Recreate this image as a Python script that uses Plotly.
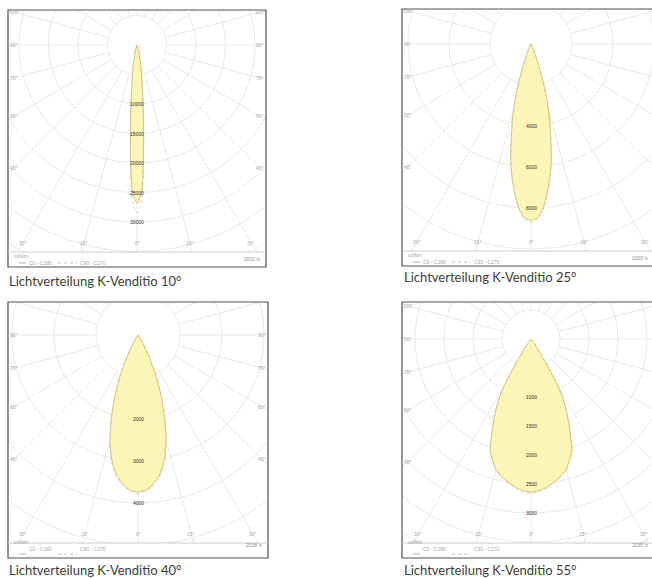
import numpy as np
import plotly.graph_objects as go

W, H = 652, 578

# ---------------- data ----------------
captions = ["Lichtverteilung K-Venditio 10°", "Lichtverteilung K-Venditio 25°",
            "Lichtverteilung K-Venditio 40°", "Lichtverteilung K-Venditio 55°"]
corner_labels = ["2002 lx", "2000 lx", "2038 lx", "2035 lx"]
ring_steps = [5000, 2000, 1000, 500]          # cd/klm per grid ring
labelled_rings = [[2, 3, 4, 5, 6], [2, 3, 4], [2, 3, 4], [2, 3, 4, 5, 6]]

# 10° beam
gamma_10 = [0, 1, 2, 3, 4, 5, 6, 8, 10, 12, 15, 20, 30, 90]
c0_10 = [26800, 26000, 24300, 20500, 16000, 12300, 9800, 6100, 4000, 2300, 1000, 300, 100, 0]
c90_10 = [28500, 27500, 25300, 21000, 16300, 12400, 9700, 6000, 3900, 2200, 950, 280, 90, 0]

# 25° beam
gamma_25 = [0, 2, 4, 6, 8, 10, 12, 14, 16, 18, 20, 25, 30, 40, 90]
c0_25 = [8600, 8500, 8100, 7400, 6600, 5700, 4600, 3700, 2800, 1800, 1000, 240, 80, 20, 0]
c90_25 = [8700, 8550, 8150, 7450, 6650, 5750, 4650, 3750, 2850, 1850, 1050, 260, 90, 20, 0]

# 40° beam
gamma_40 = [0, 3, 6, 9, 12, 15, 18, 21, 24, 27, 30, 35, 40, 50, 90]
c0_40 = [3740, 3690, 3560, 3350, 3020, 2580, 2020, 1520, 1000, 550, 280, 80, 30, 10, 0]
c90_40 = [3780, 3720, 3590, 3380, 3050, 2600, 2050, 1540, 1020, 570, 290, 90, 30, 10, 0]

# 55° beam
gamma_55 = [0, 5, 10, 15, 20, 24, 26, 28, 30, 32, 34, 37, 40, 50, 90]
c0_55 = [2640, 2590, 2480, 2330, 2050, 1600, 1400, 1190, 900, 450, 200, 75, 30, 5, 0]
c90_55 = [2660, 2600, 2490, 2340, 2060, 1610, 1410, 1200, 910, 460, 210, 80, 30, 5, 0]

side_angles = [105, 90, 75, 60, 45]
bottom_angles = [30, 15, 0]
legend_names = ["C0 - C180", "C90 - C270"]

gammas = [gamma_10, gamma_25, gamma_40, gamma_55]
c0s = [c0_10, c0_25, c0_40, c0_55]
c90s = [c90_10, c90_25, c90_40, c90_55]

# ---------------- layout geometry (pixels) ----------------
panels = [
    dict(left=8, right=266, top=10, sep=252, bottom=267, cx=137, cy=45, ring_px=29.5, cap_x=7, cap_y=281),
    dict(left=402, right=660, top=9, sep=251, bottom=266, cx=531, cy=44, ring_px=41, cap_x=402, cap_y=277),
    dict(left=8, right=268, top=302, sep=543, bottom=558, cx=138, cy=335, ring_px=42, cap_x=7, cap_y=570),
    dict(left=402, right=660, top=302, sep=543, bottom=558, cx=531, cy=339, ring_px=29, cap_x=402, cap_y=570),
]

GRID = "#e9e9e9"
FILL = "#fbf6b6"
EDGE = "#d6c486"
SMALL = "Liberation Sans, Arial, sans-serif"
LBL = "#a8a8a8"

fig = go.Figure()
annotations = []
shapes = []
layout_axes = {}


def px(xp):
    return xp / W


def py(yp):
    return 1 - yp / H


for i, p in enumerate(panels):
    sfx = "" if i == 0 else str(i + 1)
    xa, ya = "x" + sfx, "y" + sfx
    step = ring_steps[i]
    k = p["ring_px"] / step  # pixels per cd
    xr_px = min(p["right"], W)
    xrange = [(p["left"] - p["cx"]) / k, (xr_px - p["cx"]) / k]
    yrange = [-(p["sep"] - p["cy"]) / k, (p["cy"] - p["top"]) / k]
    layout_axes["xaxis" + sfx] = dict(domain=[px(p["left"]), px(xr_px)], range=xrange, visible=False,
                                      fixedrange=True, anchor=ya)
    layout_axes["yaxis" + sfx] = dict(domain=[py(p["sep"]), py(p["top"])], range=yrange, visible=False,
                                      fixedrange=True, anchor=xa)

    # polar grid: rings
    rmax_px = np.hypot(max(p["cx"] - p["left"], p["right"] - p["cx"]), p["sep"] - p["top"])
    n_rings = int(np.ceil(rmax_px / p["ring_px"])) + 1
    th = np.linspace(0, 2 * np.pi, 241)
    gx, gy = [], []
    for n in range(1, n_rings + 1):
        gx += list(n * step * np.cos(th)) + [None]
        gy += list(n * step * np.sin(th)) + [None]
    # radials every 15°
    for a in range(0, 360, 15):
        t = np.radians(a)
        gx += [step * np.sin(t), (n_rings + 1) * step * np.sin(t), None]
        gy += [-step * np.cos(t), -(n_rings + 1) * step * np.cos(t), None]
    fig.add_trace(go.Scatter(x=gx, y=gy, mode="lines", line=dict(color=GRID, width=1),
                             xaxis=xa, yaxis=ya, hoverinfo="skip"))

    # light distribution curves
    g = np.array(gammas[i], dtype=float)
    for vals, is_c0 in ((c0s[i], True), (c90s[i], False)):
        v = np.array(vals, dtype=float)
        ang = np.radians(np.concatenate([-g[::-1], g[1:]]))
        I = np.concatenate([v[::-1], v[1:]])
        x = I * np.sin(ang)
        y = -I * np.cos(ang)
        if is_c0:
            fig.add_trace(go.Scatter(x=x, y=y, mode="lines", fill="toself", fillcolor=FILL,
                                     line=dict(color=EDGE, width=1, shape="spline", smoothing=0.6),
                                     xaxis=xa, yaxis=ya, hoverinfo="skip"))
        else:
            fig.add_trace(go.Scatter(x=x, y=y, mode="lines",
                                     line=dict(color=EDGE, width=0.8, dash="dot", shape="spline", smoothing=0.6),
                                     xaxis=xa, yaxis=ya, hoverinfo="skip"))

    # ring value labels on the 0° axis
    for n in labelled_rings[i]:
        annotations.append(dict(x=0, y=-n * step, xref=xa, yref=ya, text=str(n * step), showarrow=False,
                                font=dict(size=5, color="#2e2e22", family=SMALL)))

    # angle labels
    dx = p["cx"] - (p["left"] + 6)
    ybot = p["sep"] - 9 - p["cy"]
    for a in side_angles:
        yy = -dx / np.tan(np.radians(a)) if a != 90 else 0.0
        for s in (-1, 1):
            xx_px = p["cx"] + s * dx
            if xx_px > W - 3:
                continue
            annotations.append(dict(x=s * dx / k, y=yy / k, xref=xa, yref=ya, text=f"{a}°", showarrow=False,
                                    font=dict(size=5, color=LBL, family=SMALL)))
    for a in bottom_angles:
        off = min(ybot * np.tan(np.radians(a)), dx)
        for s in ((-1, 1) if a else (1,)):
            if p["cx"] + s * off > W - 3:
                continue
            annotations.append(dict(x=s * off / k, y=-ybot / k, xref=xa, yref=ya, text=f"{a}°", showarrow=False,
                                    font=dict(size=5, color=LBL, family=SMALL)))

    # frame and separator
    shapes.append(dict(type="rect", xref="paper", yref="paper", x0=px(p["left"]), x1=px(p["right"]),
                       y0=py(p["bottom"]), y1=py(p["top"]), line=dict(color="#505050", width=1.2)))
    shapes.append(dict(type="line", xref="paper", yref="paper", x0=px(p["left"]), x1=px(p["right"]),
                       y0=py(p["sep"]), y1=py(p["sep"]), line=dict(color="#cccccc", width=1)))

    # strip texts
    annotations.append(dict(x=px(p["left"] + 4), y=py(p["sep"] + 4), xref="paper", yref="paper",
                            text="cd/klm", showarrow=False, xanchor="left",
                            font=dict(size=5, color=LBL, family=SMALL)))
    annotations.append(dict(x=px(min(p["right"] - 3, W - 1)), y=py(p["sep"] + 7), xref="paper", yref="paper",
                            text=corner_labels[i], showarrow=False, xanchor="right",
                            font=dict(size=5, color="#909090", family=SMALL)))
    ly = p["bottom"] - 4
    shapes.append(dict(type="line", xref="paper", yref="paper", x0=px(p["left"] + 11), x1=px(p["left"] + 18),
                       y0=py(ly), y1=py(ly), line=dict(color="#b0b0b0", width=1)))
    annotations.append(dict(x=px(p["left"] + 19), y=py(ly), xref="paper", yref="paper", text=legend_names[0],
                            showarrow=False, xanchor="left", font=dict(size=5, color=LBL, family=SMALL)))
    shapes.append(dict(type="line", xref="paper", yref="paper", x0=px(p["left"] + 50), x1=px(p["left"] + 69),
                       y0=py(ly), y1=py(ly), line=dict(color="#c0c0c0", width=1, dash="dot")))
    annotations.append(dict(x=px(p["left"] + 70), y=py(ly), xref="paper", yref="paper", text=legend_names[1],
                            showarrow=False, xanchor="left", font=dict(size=5, color=LBL, family=SMALL)))

    # caption
    annotations.append(dict(x=px(p["cap_x"]), y=py(p["cap_y"]), xref="paper", yref="paper", text=captions[i],
                            showarrow=False, xanchor="left", yanchor="middle",
                            font=dict(size=13, color="#3d3d3d", family="Lato, Open Sans, sans-serif")))

fig.update_layout(width=W, height=H, margin=dict(l=0, r=0, t=0, b=0), autosize=False,
                  paper_bgcolor="white", plot_bgcolor="white", showlegend=False,
                  annotations=annotations, shapes=shapes, **layout_axes)

fig.write_html("out.html", config={"displayModeBar": False},
               post_script="document.body.style.margin='0';document.body.style.overflow='hidden';")
